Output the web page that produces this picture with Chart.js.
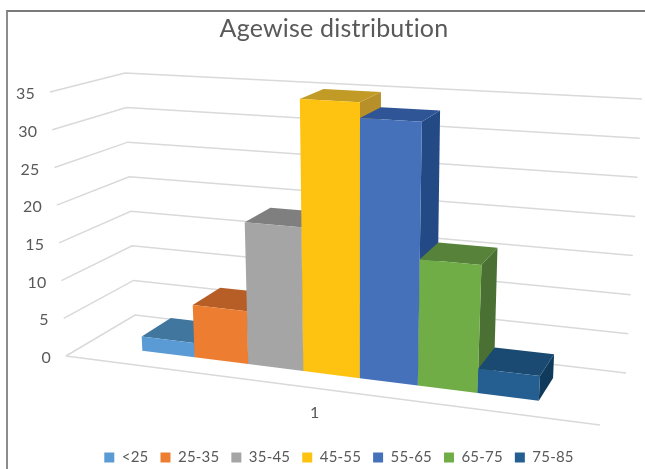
<!DOCTYPE html>
<html>
<head>
<meta charset="utf-8">
<title>Agewise distribution</title>
<script src="https://cdn.jsdelivr.net/npm/chart.js@4"></script>
<style>
  html, body { margin: 0; padding: 0; background: #fff; overflow: hidden; }
  #wrap { position: relative; width: 645px; height: 469px; }
  #frame {
    position: absolute; left: 6px; top: 10px; right: -4px; bottom: -4px;
    border-left: 2px solid #8c8c8c; border-top: 2px solid #7a7a7a;
  }
  canvas { position: absolute; left: 0; top: 0; }
</style>
</head>
<body>
<div id="wrap">
  <div id="frame"></div>
  <canvas id="chartPlaceholder" width="645" height="469"></canvas>
</div>
<script>
const categories = ["1"];
const ageGroups = ["<25", "25-35", "35-45", "45-55", "55-65", "65-75", "75-85"];
const counts = [1.9, 6.9, 18.5, 35, 33, 15.8, 3];
const yTicks = { min: 0, max: 35, step: 5 };

const frontColors = ["#5b9bd5", "#ed7d31", "#a5a5a5", "#fec210", "#4571bb", "#70ad47", "#255e91"];
const topColors = ["#41769f", "#b65e26", "#7f7f7f", "#c29a26", "#2f5597", "#56823a", "#1a4a72"];
const sideColors = ["#2f5f88", "#9c4e1c", "#6e6e6e", "#b8902a", "#244a85", "#4b7033", "#0f3a5c"];

const TEXT_COLOR = "#595959";
const GRID_COLOR = "#d9d9d9";
const FONT = "Lato";

// corners of the 3D plot box on the canvas: f = front, b = back, l = left, r = right
const floorBox = { fl: [66, 356], bl: [135, 315], br: [626, 373], fr: [600, 425] };
const ceilBox = { fl: [50, 92], bl: [125, 73], br: [642, 99], fr: [622, 125] };

const BAR_DEPTH_FRONT = 0.3;
const BAR_DEPTH_BACK = 0.75;
const FLOOR_PERSPECTIVE = 0.13;
const CEIL_PERSPECTIVE = 0.16;

function lerp(p, q, t) {
  return [p[0] + (q[0] - p[0]) * t, p[1] + (q[1] - p[1]) * t];
}

function planePoint(plane, u, v) {
  return lerp(lerp(plane.fl, plane.fr, u), lerp(plane.bl, plane.br, u), v);
}

function warp(u, k) {
  return u / (1 + k * (1 - u));
}

// u: across the box, v: into the box, w: height, all 0..1
function project(u, v, w) {
  const bottom = planePoint(floorBox, warp(u, FLOOR_PERSPECTIVE), v);
  const top = planePoint(ceilBox, warp(u, CEIL_PERSPECTIVE), v);
  return lerp(bottom, top, w);
}

function fillPoly(ctx, points, color) {
  ctx.beginPath();
  points.forEach((p, i) => (i ? ctx.lineTo(p[0], p[1]) : ctx.moveTo(p[0], p[1])));
  ctx.closePath();
  ctx.fillStyle = color;
  ctx.fill();
}

function strokeLine(ctx, points) {
  ctx.beginPath();
  points.forEach((p, i) => (i ? ctx.lineTo(p[0], p[1]) : ctx.moveTo(p[0], p[1])));
  ctx.stroke();
}

function drawWalls(chart) {
  const { ctx, scales } = chart;
  const y = scales.y;
  const heightOf = (px) => (y.bottom - px) / (y.bottom - y.top);

  ctx.strokeStyle = GRID_COLOR;
  ctx.lineWidth = 1.5;
  y.ticks.forEach((tick) => {
    const w = heightOf(y.getPixelForValue(tick.value));
    strokeLine(ctx, [project(0, 0, w), project(0, 1, w), project(1, 1, w)]);
  });
  strokeLine(ctx, [project(0, 0, 0), project(1, 0, 0)]);

  ctx.fillStyle = TEXT_COLOR;
  ctx.font = `16px ${FONT}`;
  ctx.textAlign = "right";
  ctx.textBaseline = "middle";
  y.ticks.forEach((tick) => {
    const w = heightOf(y.getPixelForValue(tick.value));
    const p = project(0, 0, w);
    ctx.fillText(tick.label, p[0] - 15, p[1] + 2);
  });

  const x = scales.x;
  const mid = project((x.getPixelForTick(0) - x.left) / x.width, 0, 0);
  ctx.textAlign = "center";
  ctx.fillText(categories[0], mid[0] - 2, mid[1] + 24);
}

function drawBars(chart) {
  const { ctx, scales } = chart;
  const x = scales.x;
  const y = scales.y;
  const acrossOf = (px) => (px - x.left) / x.width;
  const heightOf = (px) => (y.bottom - px) / (y.bottom - y.top);

  // left to right, each bar covers the side of the one before it
  chart.data.datasets.forEach((dataset, i) => {
    const bar = chart.getDatasetMeta(i).data[0];
    const u0 = acrossOf(bar.x - bar.width / 2);
    const u1 = acrossOf(bar.x + bar.width / 2);
    const w0 = heightOf(bar.base);
    const w1 = heightOf(bar.y);
    const vf = BAR_DEPTH_FRONT;
    const vb = BAR_DEPTH_BACK;

    fillPoly(ctx, [project(u1, vf, w0), project(u1, vb, w0), project(u1, vb, w1), project(u1, vf, w1)], sideColors[i]);
    fillPoly(ctx, [project(u0, vf, w1), project(u1, vf, w1), project(u1, vb, w1), project(u0, vb, w1)], topColors[i]);
    fillPoly(ctx, [project(u0, vf, w0), project(u1, vf, w0), project(u1, vf, w1), project(u0, vf, w1)], dataset.backgroundColor);
  });
}

const boxPlugin = {
  id: "box3d",
  beforeUpdate(chart) {
    // tiny spacing also turns off the "ti" ligature in Lato
    chart.ctx.letterSpacing = "0.2px";
  },
  afterLayout(chart) {
    // legend row sits a little right of and below the default spot
    chart.legend.left += 5;
    chart.legend.right += 5;
    chart.legend.top += 8;
    chart.legend.bottom += 8;
  },
  beforeDatasetsDraw(chart) {
    drawWalls(chart);
    drawBars(chart);
    return false;
  },
};

const datasets = ageGroups.map((name, i) => ({
  label: name,
  data: [counts[i]],
  backgroundColor: frontColors[i],
}));

new Chart(document.getElementById("chartPlaceholder").getContext("2d"), {
  type: "bar",
  data: { labels: categories, datasets: datasets },
  plugins: [boxPlugin],
  options: {
    responsive: false,
    animation: false,
    layout: { padding: { left: 23, bottom: 2 } },
    datasets: { bar: { barPercentage: 1, categoryPercentage: 0.762 } },
    scales: {
      x: { display: false },
      y: { display: false, min: yTicks.min, max: yTicks.max, ticks: { stepSize: yTicks.step } },
    },
    plugins: {
      title: {
        display: true,
        text: "Agewise distribution",
        color: TEXT_COLOR,
        font: { family: FONT, size: 25, weight: "normal" },
        padding: { top: 14, bottom: 10 },
      },
      legend: {
        position: "bottom",
        labels: {
          color: TEXT_COLOR,
          font: { family: FONT, size: 15 },
          boxWidth: 10,
          boxHeight: 10,
          padding: 12,
        },
      },
      tooltip: { enabled: false },
    },
  },
});
</script>
</body>
</html>
